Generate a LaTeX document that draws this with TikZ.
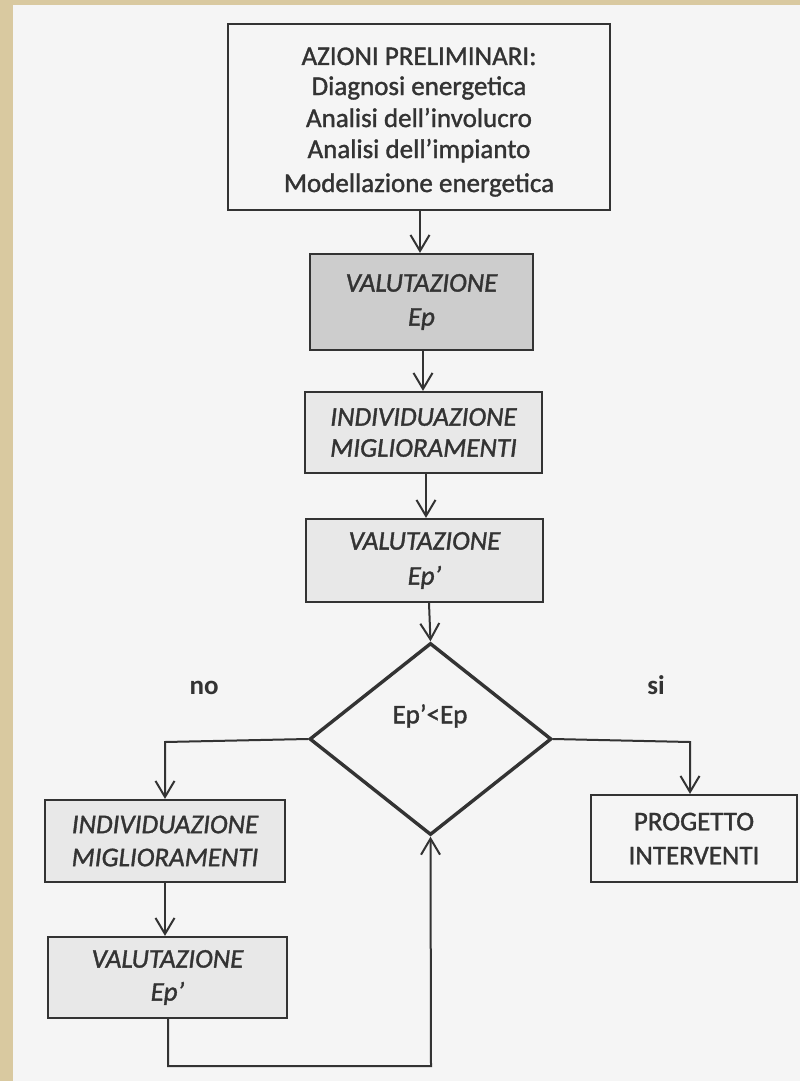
\documentclass[tikz,border=0pt]{standalone}
\usepackage{fontspec}
\setmainfont{Carlito}[FakeBold=1.3]
\newfontfamily\boldish{Carlito Bold}
\usetikzlibrary{arrows.meta,shapes.geometric}
\definecolor{paper}{HTML}{F5F5F5}
\definecolor{strip}{HTML}{D9C9A0}
\definecolor{ink}{HTML}{333333}
\definecolor{darkfill}{HTML}{CDCDCD}
\definecolor{lightfill}{HTML}{E8E8E8}
\tikzset{
  box/.style={draw=ink, line width=2.2pt, rectangle, inner sep=0pt, text=ink, align=center,
    font=\fontsize{27}{33}\selectfont},
  txt/.style={text=ink, inner sep=0pt, font=\fontsize{27}{31}\selectfont},
  conn/.style={draw=ink, line width=2pt},
  arr/.style={conn, -{Straight Barb[length=16pt,width=19pt,line width=2pt]}},
}
\begin{document}
\begin{tikzpicture}[x=1pt,y=-1pt]
\useasboundingbox (0,0) rectangle (800,1081);
\fill[strip] (0,0) rectangle (800,1081);
\fill[paper] (13,5) rectangle (800,1081);

% top box
\node[box, fill=paper, minimum width=382pt, minimum height=186pt] (prelim) at (419,117) {};
\node[txt, anchor=base] (t1) at (419,65) {AZIONI PRELIMINARI:};
\node[txt, anchor=base] (t2) at (419,95) {Diagnosi energetica};
\node[txt, anchor=base] (t3) at (419,127) {Analisi dell’involucro};
\node[txt, anchor=base] (t4) at (419,158) {Analisi dell’impianto};
\node[txt, anchor=base] (t5) at (419,192) {Modellazione energetica};

\node[box, fill=darkfill, minimum width=223pt, minimum height=96pt, font=\itshape\fontsize{27}{34}\selectfont] (val1) at (421.5,302) {VALUTAZIONE\\Ep};
\node[box, fill=lightfill, minimum width=237pt, minimum height=81pt, font=\itshape\fontsize{27}{31}\selectfont] (ind1) at (423.5,432.5) {INDIVIDUAZIONE\\MIGLIORAMENTI};
\node[box, fill=lightfill, minimum width=237pt, minimum height=83pt, font=\itshape\fontsize{27}{35}\selectfont] (val2) at (424.5,560.5) {VALUTAZIONE\\Ep’};

\node[diamond, draw=ink, line width=3.4pt, minimum width=242pt, minimum height=192pt, inner sep=0pt] (dec) at (430.5,739) {};
\node[txt] (dectext) at (430,716) {Ep’<Ep};

\node[txt, font=\boldish\fontsize{27}{31}\selectfont] (no) at (204,688) {no};
\node[txt, font=\boldish\fontsize{27}{31}\selectfont] (si) at (656,685) {si};

\node[box, fill=lightfill, minimum width=240pt, minimum height=82pt, font=\itshape\fontsize{27}{33}\selectfont] (ind2) at (165,841) {INDIVIDUAZIONE\\MIGLIORAMENTI};
\node[box, fill=lightfill, minimum width=239pt, minimum height=81pt, font=\itshape\fontsize{27}{33}\selectfont] (val3) at (167.5,977.5) {VALUTAZIONE\\Ep’};

\node[box, fill=paper, minimum width=206pt, minimum height=87pt, font=\fontsize{27}{34}\selectfont] (prog) at (694,838.5) {PROGETTO\\INTERVENTI};

\coordinate (loopA) at (168,1066);
\coordinate (loopB) at (431,1066);
\coordinate (leftc) at (165,742);
\coordinate (rightc) at (690,742);

% connectors
\draw[arr] (prelim.south -| 420,0) -- (420,0 |- val1.north);
\draw[arr] (val1.south -| 423,0) -- (423,0 |- ind1.north);
\draw[arr] (ind1.south -| 426,0) -- (426,0 |- val2.north);
\draw[arr] (val2.south -| 429,0) -- (dec.north);
\draw[arr] (dec.west) -- (leftc) -- (leftc |- ind2.north);
\draw[arr] (ind2.south) -- (ind2.south |- val3.north);
\draw[arr] (dec.east) -- (rightc) -- (rightc |- prog.north);
\draw[arr] (val3.south -| loopA) -- (loopA) -- (loopB) -- (dec.south);
\end{tikzpicture}
\end{document}
